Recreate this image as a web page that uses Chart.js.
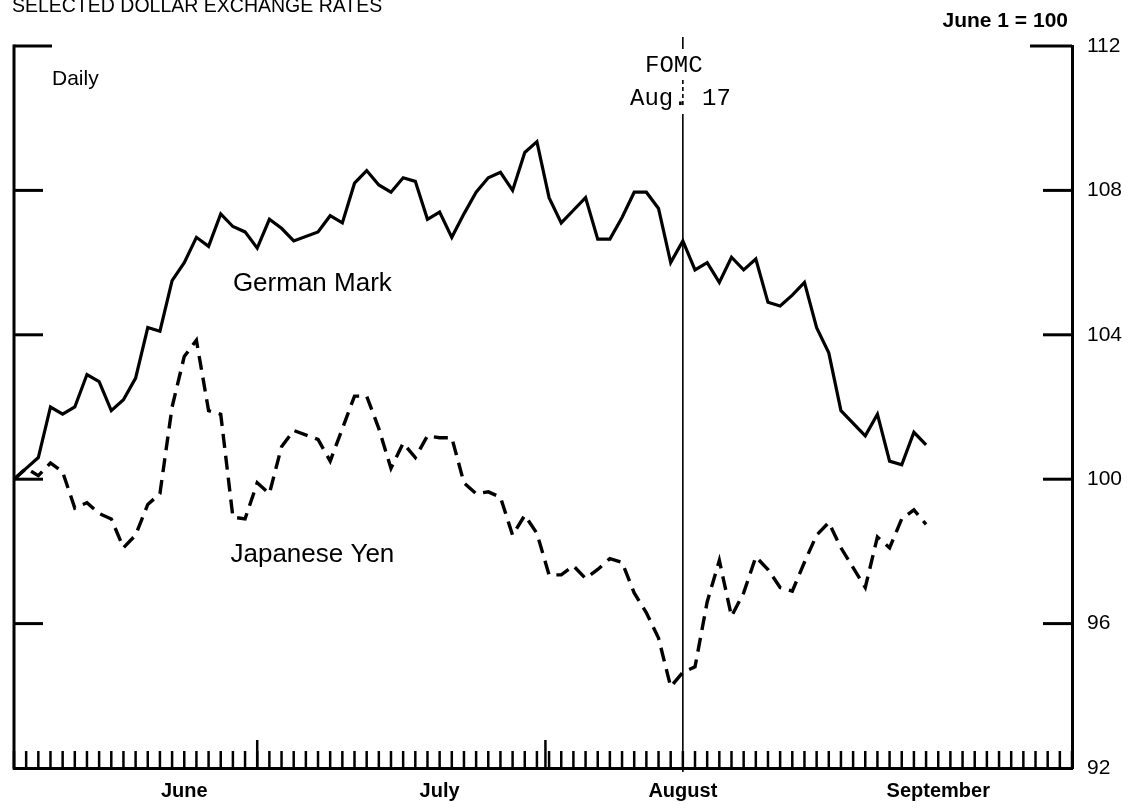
<!DOCTYPE html>
<html>
<head>
<meta charset="utf-8">
<title>Selected Dollar Exchange Rates</title>
<script src="https://cdn.jsdelivr.net/npm/chart.js@4.4.1/dist/chart.umd.min.js"></script>
<style>
  html, body { margin: 0; padding: 0; background: #ffffff; }
  #wrap { width: 1132px; height: 808px; position: relative; }
</style>
</head>
<body>
<div id="wrap"><canvas id="fx" width="1132" height="808"></canvas></div>
<script>
// Index values, June 1 = 100. Position = weekday count from June 1 (0) to September 30 (87);
// market holidays are left as null.
const germanMark = [
  100.0, 100.3, 100.6, 102.0, 101.8, 102.0, 102.9, 102.7, 101.9, 102.2,
  102.8, 104.2, 104.1, 105.5, 106.0, 106.7, 106.45, 107.35, 107.0, 106.85,
  106.4, 107.2, 106.95, 106.6, null, 106.85, 107.3, 107.1, 108.2, 108.55,
  108.15, 107.95, 108.35, 108.25, 107.2, 107.4, 106.7, 107.35, 107.95, 108.35,
  108.5, 108.0, 109.05, 109.35, 107.8, 107.1, 107.45, 107.8, 106.65, 106.65,
  107.25, 107.95, 107.95, 107.5, 106.0, 106.6, 105.8, 106.0, 105.45, 106.15,
  105.8, 106.1, 104.9, 104.8, 105.1, 105.45, 104.2, 103.5, 101.9, null,
  101.2, 101.8, 100.5, 100.4, 101.3, 100.95
];
const japaneseYen = [
  100.0, 100.3, 100.1, 100.45, 100.2, 99.2, 99.35, 99.05, 98.9, 98.1,
  98.45, 99.3, 99.6, 102.0, 103.4, 103.85, 101.9, 101.8, 98.95, 98.9,
  99.9, 99.6, 100.9, 101.35, null, 101.1, 100.5, 101.4, 102.3, 102.3,
  101.4, 100.3, 101.0, 100.6, 101.2, 101.15, 101.15, 99.9, 99.6, 99.65,
  99.5, 98.45, 99.0, 98.5, 97.35, 97.35, 97.6, 97.25, 97.5, 97.8,
  97.7, 96.85, 96.3, 95.6, 94.25, 94.65, 94.8, 96.6, 97.75, 96.2,
  96.85, 97.85, 97.5, 97.0, 96.9, 97.7, 98.45, 98.8, 98.1, null,
  97.0, 98.4, 98.1, 98.9, 99.15, 98.75
];

const yTickValues = [92, 96, 100, 104, 108, 112];
const monthNames = ['June', 'July', 'August', 'September'];
const monthLabelAt = [14, 35, 55, 76];      // weekday position of each month caption
const longTickAt = [20, 43.7];              // taller marks on the day scale
const lastWeekday = 87;
const fomcDay = 55;                         // August 17

const toPoints = (arr) => arr.map((v, i) => ({ x: i, y: v }));

const SANS = '"Liberation Sans", Arial, Helvetica, sans-serif';
const MONO = '"Liberation Mono", "Courier New", monospace';

// Frame, inward tick marks, FOMC marker and captions
const framePlugin = {
  id: 'frame',
  afterDraw(chart) {
    const { ctx, chartArea: a, scales } = chart;
    const xs = scales.x, ys = scales.y;
    const seg = (x1, y1, x2, y2) => { ctx.beginPath(); ctx.moveTo(x1, y1); ctx.lineTo(x2, y2); ctx.stroke(); };
    ctx.save();
    ctx.strokeStyle = '#000';
    ctx.fillStyle = '#000';
    ctx.lineCap = 'butt';

    // left axis
    ctx.lineWidth = 3;
    seg(a.left, a.top - 1.5, a.left, a.bottom + 1.5);

    // inward value ticks on both sides
    yTickValues.forEach((v) => {
      if (v === ys.min) return;
      const py = ys.getPixelForValue(v);
      const top = v === ys.max;
      seg(a.left, py, a.left + (top ? 38 : 29), py);
      seg(a.right, py, a.right - (top ? 42 : 29), py);
    });

    // daily ticks along the bottom
    ctx.lineWidth = 2.5;
    for (let d = 0; d <= lastWeekday; d++) {
      const px = xs.getPixelForValue(d);
      seg(px, a.bottom, px, a.bottom - 17);
    }
    longTickAt.forEach((d) => {
      const px = xs.getPixelForValue(d);
      seg(px, a.bottom, px, a.bottom - 28);
    });

    // FOMC meeting marker
    const fx = xs.getPixelForValue(fomcDay);
    ctx.lineWidth = 1.6;
    seg(fx, 37, fx, 49);
    ctx.setLineDash([4, 3]);
    seg(fx, 80, fx, 108);
    ctx.setLineDash([]);
    seg(fx, 114, fx, a.bottom + 4);

    ctx.font = '24px ' + MONO;
    ctx.textBaseline = 'alphabetic';
    ctx.textAlign = 'left';
    ctx.fillText('FOMC', 645, 72);
    ctx.fillText('Aug. 17', 630, 105);

    // captions
    ctx.font = '19.5px ' + SANS;
    ctx.fillText('SELECTED DOLLAR EXCHANGE RATES', 12, 12);

    ctx.font = '21px ' + SANS;
    ctx.fillText('Daily', 52, 85);

    ctx.font = 'bold 21px ' + SANS;
    ctx.textAlign = 'right';
    ctx.fillText('June 1 = 100', 1068, 27);

    ctx.textAlign = 'left';
    ctx.font = '26px ' + SANS;
    ctx.fillText('German Mark', xs.getPixelForValue(18), ys.getPixelForValue(105.2));
    ctx.fillText('Japanese Yen', xs.getPixelForValue(17.8), ys.getPixelForValue(97.7));

    ctx.restore();
  }
};

new Chart(document.getElementById('fx'), {
  type: 'line',
  data: {
    datasets: [
      {
        label: 'German Mark',
        data: toPoints(germanMark),
        borderColor: '#000',
        borderWidth: 3.2,
        pointRadius: 0,
        tension: 0,
        spanGaps: true,
        borderJoinStyle: 'miter'
      },
      {
        label: 'Japanese Yen',
        data: toPoints(japaneseYen),
        borderColor: '#000',
        borderWidth: 3.4,
        borderDash: [14, 8],
        pointRadius: 0,
        tension: 0,
        spanGaps: true
      }
    ]
  },
  options: {
    responsive: false,
    animation: false,
    devicePixelRatio: 1,
    layout: { padding: { left: 14, top: 46, right: 0, bottom: 0 } },
    plugins: {
      legend: { display: false },
      tooltip: { enabled: false },
      title: { display: false }
    },
    scales: {
      x: {
        type: 'linear',
        min: 0,
        max: lastWeekday,
        afterBuildTicks: (s) => { s.ticks = monthLabelAt.map((v) => ({ value: v })); },
        afterFit: (s) => { s.height = 40; },
        ticks: {
          autoSkip: false,
          maxRotation: 0,
          padding: 11,
          color: '#000',
          font: { family: SANS, size: 20, weight: 'bold' },
          callback: (v, i) => monthNames[i]
        },
        grid: { display: false, drawTicks: false },
        border: { display: true, width: 3, color: '#000' }
      },
      y: {
        type: 'linear',
        position: 'right',
        min: 92,
        max: 112,
        afterBuildTicks: (s) => { s.ticks = yTickValues.map((v) => ({ value: v })); },
        afterFit: (s) => { s.width = 60; },
        ticks: {
          padding: 15,
          color: '#000',
          font: { family: SANS, size: 21 }
        },
        grid: { display: false, drawTicks: false },
        border: { display: true, width: 3, color: '#000' }
      }
    }
  },
  plugins: [framePlugin]
});
</script>
</body>
</html>
